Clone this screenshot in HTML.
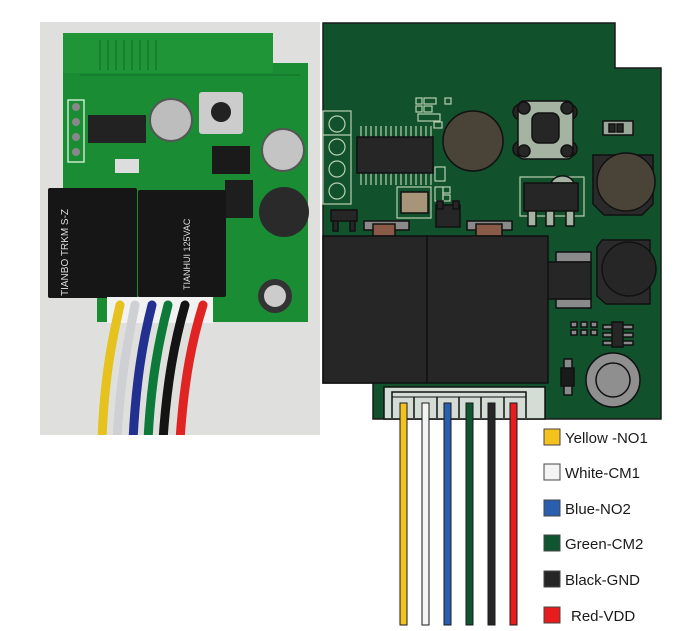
<!DOCTYPE html>
<html><head><meta charset="utf-8"><style>
html,body{margin:0;padding:0;background:#fff;}
svg{display:block;}
text{font-family:"Liberation Sans",sans-serif;}
</style></head><body>
<svg width="691" height="631" viewBox="0 0 691 631" xmlns="http://www.w3.org/2000/svg">
<rect width="691" height="631" fill="#fff"/>
<!-- PHOTO -->
<rect x="40" y="22" width="280" height="413" fill="#dfe0de"/>
<path d="M63,33 H273 V63 H308 V322 H97 V298 H63 Z" fill="#1a8c34"/>
<rect x="63" y="33" width="210" height="40" fill="#22993b" opacity="0.7"/>
<g stroke="#137a2c" stroke-width="1.5" fill="none">
<path d="M100,40 V70 M108,40 V70 M116,40 V70 M124,40 V70 M132,40 V70 M140,40 V70 M148,40 V70 M156,40 V70 M80,75 H300"/>
</g>
<rect x="68" y="100" width="16" height="62" fill="none" stroke="#c8e8c8" stroke-width="1.5"/>
<circle cx="76" cy="107" r="4" fill="#888"/><circle cx="76" cy="122" r="4" fill="#888"/><circle cx="76" cy="137" r="4" fill="#888"/><circle cx="76" cy="152" r="4" fill="#888"/>
<rect x="88" y="115" width="58" height="28" fill="#222"/>
<circle cx="171" cy="120" r="21" fill="#bdbdbd" stroke="#555" stroke-width="2"/>
<rect x="199" y="92" width="44" height="42" fill="#ccc" rx="3"/>
<circle cx="221" cy="112" r="10" fill="#222"/>
<rect x="212" y="146" width="38" height="28" fill="#1a1a1a"/>
<rect x="115" y="159" width="24" height="14" fill="#ddd"/>
<circle cx="283" cy="150" r="21" fill="#c4c4c4" stroke="#555" stroke-width="2"/>
<rect x="225" y="180" width="28" height="38" fill="#1e1e1e"/>
<circle cx="284" cy="212" r="25" fill="#2a2a2a"/>
<circle cx="275" cy="296" r="17" fill="#333"/><circle cx="275" cy="296" r="11" fill="#ccc"/>
<rect x="48" y="188" width="89" height="110" fill="#161616" rx="2"/>
<rect x="138" y="190" width="88" height="107" fill="#161616" rx="2"/>
<text x="0" y="0" transform="translate(68,296) rotate(-90)" font-size="10" fill="#ddd">TIANBO TRKM S-Z</text>
<text x="0" y="0" transform="translate(190,290) rotate(-90)" font-size="9" fill="#ddd">TIANHUI 125VAC</text>
<rect x="107" y="297" width="106" height="26" fill="#f2f2f2"/>
<g fill="none" stroke-width="9" stroke-linecap="round">
<path d="M120,305 C112,340 104,380 102,440" stroke="#e6c21e"/>
<path d="M135,305 C128,340 120,380 117,440" stroke="#cfd0d4"/>
<path d="M152,305 C143,340 136,380 133,440" stroke="#22318f"/>
<path d="M168,305 C159,340 151,380 148,440" stroke="#0e7a3a"/>
<path d="M185,305 C175,340 167,380 163,440" stroke="#141414"/>
<path d="M203,305 C192,340 184,380 180,440" stroke="#e02424"/>
</g>
<rect x="40" y="435" width="281" height="10" fill="#fff"/>

<!-- DRAWING -->
<g stroke="#1a1a1a" stroke-width="1.5">
<path d="M323,23 H615 V68 H661 V419 H373 V383 H323 Z" fill="#11512c"/>
</g>
<g fill="none" stroke="#b8d0b0" stroke-width="1.2">
<rect x="323" y="111" width="28" height="93"/>
<line x1="323" y1="135" x2="351" y2="135"/>
<circle cx="337" cy="124" r="8"/><circle cx="337" cy="147" r="8"/><circle cx="337" cy="169" r="8"/><circle cx="337" cy="191" r="8"/>
<rect x="416" y="98" width="6" height="6"/><rect x="424" y="98" width="12" height="6"/><rect x="445" y="98" width="6" height="6"/>
<rect x="416" y="106" width="6" height="6"/><rect x="424" y="106" width="8" height="6"/>
<rect x="418" y="114" width="22" height="7"/><rect x="434" y="122" width="8" height="6"/>
<rect x="435" y="167" width="10" height="14"/>
<rect x="435" y="187" width="8" height="14"/><rect x="443" y="187" width="7" height="6"/><rect x="443" y="195" width="7" height="6"/>
<rect x="397" y="187" width="34" height="31"/>
<rect x="520" y="177" width="64" height="39"/>
</g>
<g stroke="#b8d0b0" stroke-width="1.2">
<path d="M361,126 V137 M366,126 V137 M371,126 V137 M376,126 V137 M381,126 V137 M386,126 V137 M391,126 V137 M396,126 V137 M401,126 V137 M406,126 V137 M411,126 V137 M416,126 V137 M421,126 V137 M426,126 V137 M431,126 V137"/>
<path d="M361,173 V185 M366,173 V185 M371,173 V185 M376,173 V185 M381,173 V185 M386,173 V185 M391,173 V185 M396,173 V185 M401,173 V185 M406,173 V185 M411,173 V185 M416,173 V185 M421,173 V185 M426,173 V185 M431,173 V185"/>
</g>
<g stroke="#111" stroke-width="1.5">
<rect x="357" y="137" width="76" height="36" fill="#262626"/>
<circle cx="473" cy="141" r="30" fill="#4a4438"/>
<ellipse cx="521" cy="112" rx="8" ry="8" fill="#262626"/><ellipse cx="569" cy="112" rx="8" ry="8" fill="#262626"/>
<ellipse cx="521" cy="149" rx="8" ry="8" fill="#262626"/><ellipse cx="569" cy="149" rx="8" ry="8" fill="#262626"/>
<rect x="518" y="101" width="55" height="58" rx="6" fill="#a4b3a2"/>
<circle cx="524" cy="108" r="6" fill="#262626"/><circle cx="567" cy="108" r="6" fill="#262626"/>
<circle cx="524" cy="151" r="6" fill="#262626"/><circle cx="567" cy="151" r="6" fill="#262626"/>
<rect x="532" y="113" width="27" height="30" rx="7" fill="#262626"/>
<rect x="603" y="121" width="30" height="14" fill="#9aa89a"/>
<rect x="609" y="124" width="6" height="8" fill="#262626"/><rect x="617" y="124" width="6" height="8" fill="#262626"/>
<path d="M593,155 H653 V204 L642,215 H604 L593,204 Z" fill="#2a2a2a"/>
<circle cx="626" cy="182" r="29" fill="#4a4438"/>
<rect x="401" y="192" width="27" height="21" fill="#a69578"/>
<path d="M551,183 A12,10 0 0,1 574,183 Z" fill="#a4b3a2"/>
<rect x="524" y="183" width="54" height="28" fill="#262626"/>
<rect x="528" y="211" width="8" height="15" fill="#a4b3a2"/><rect x="546" y="211" width="8" height="15" fill="#a4b3a2"/><rect x="566" y="211" width="8" height="15" fill="#a4b3a2"/>
<rect x="331" y="210" width="26" height="11" fill="#262626"/>
<rect x="333" y="221" width="5" height="10" fill="#262626"/><rect x="350" y="221" width="5" height="10" fill="#262626"/>
<rect x="436" y="205" width="24" height="22" fill="#262626"/>
<rect x="437" y="201" width="6" height="8" fill="#262626"/><rect x="453" y="201" width="6" height="8" fill="#262626"/>
<rect x="364" y="221" width="45" height="9" fill="#8a8a8a"/>
<rect x="373" y="224" width="22" height="12" fill="#8a5a48"/>
<rect x="467" y="221" width="45" height="9" fill="#8a8a8a"/>
<rect x="476" y="224" width="26" height="12" fill="#8a5a48"/>
<rect x="556" y="252" width="35" height="10" fill="#8a8a8a"/><rect x="556" y="299" width="35" height="9" fill="#8a8a8a"/>
<rect x="548" y="262" width="43" height="37" fill="#262626"/>
<path d="M602,240 L608,240 H650 V304 H606 L597,296 V247 Z" fill="#2a2a2a"/>
<circle cx="629" cy="269" r="27" fill="#262626"/>
<rect x="323" y="236" width="104" height="147" fill="#262626"/>
<rect x="427" y="236" width="121" height="147" fill="#262626"/>
<rect x="571" y="322" width="6" height="5" fill="#8a8a8a"/><rect x="581" y="322" width="6" height="5" fill="#8a8a8a"/><rect x="591" y="322" width="6" height="5" fill="#8a8a8a"/>
<rect x="571" y="330" width="6" height="5" fill="#8a8a8a"/><rect x="581" y="330" width="6" height="5" fill="#8a8a8a"/><rect x="591" y="330" width="6" height="5" fill="#8a8a8a"/>
<rect x="603" y="325" width="30" height="4" fill="#8a8a8a"/><rect x="603" y="333" width="30" height="4" fill="#8a8a8a"/><rect x="603" y="341" width="30" height="4" fill="#8a8a8a"/>
<rect x="612" y="322" width="11" height="25" fill="#262626"/>
<rect x="564" y="359" width="8" height="36" fill="#8a8a8a"/>
<rect x="561" y="368" width="13" height="18" fill="#1a1a1a"/>
<circle cx="613" cy="380" r="27" fill="#8f8f8f"/>
<circle cx="613" cy="380" r="17" fill="#8f8f8f"/>
<rect x="384" y="387" width="161" height="32" fill="#d4dcd6"/>
<path d="M392,418 V392 H526 V418" fill="none"/>
<path d="M414,418 V397 M437,418 V397 M459,418 V397 M481,418 V397 M504,418 V397" fill="none"/>
<path d="M392,397 H526" fill="none" stroke-width="1"/>
</g>
<g stroke="#1a1a1a" stroke-width="1">
<rect x="400" y="403" width="7" height="222" fill="#f3c21f"/>
<rect x="422" y="403" width="7" height="222" fill="#f4f4f4"/>
<rect x="444" y="403" width="7" height="222" fill="#2a5fb0"/>
<rect x="466" y="403" width="7" height="222" fill="#0f5530"/>
<rect x="488" y="403" width="7" height="222" fill="#262626"/>
<rect x="510" y="403" width="7" height="222" fill="#e81c1c"/>
</g>
<g stroke="#444" stroke-width="1">
<rect x="544" y="429" width="16" height="16" fill="#f3c21f"/>
<rect x="544" y="464" width="16" height="16" fill="#f4f4f4"/>
<rect x="544" y="500" width="16" height="16" fill="#2a5fb0"/>
<rect x="544" y="535" width="16" height="16" fill="#0f5530"/>
<rect x="544" y="571" width="16" height="16" fill="#262626"/>
<rect x="544" y="607" width="16" height="16" fill="#e81c1c"/>
</g>
<g font-size="15" fill="#1a1a1a">
<text x="565" y="443">Yellow -NO1</text>
<text x="565" y="478">White-CM1</text>
<text x="565" y="514">Blue-NO2</text>
<text x="565" y="549">Green-CM2</text>
<text x="565" y="585">Black-GND</text>
<text x="571" y="621">Red-VDD</text>
</g>
</svg>
</body></html>
